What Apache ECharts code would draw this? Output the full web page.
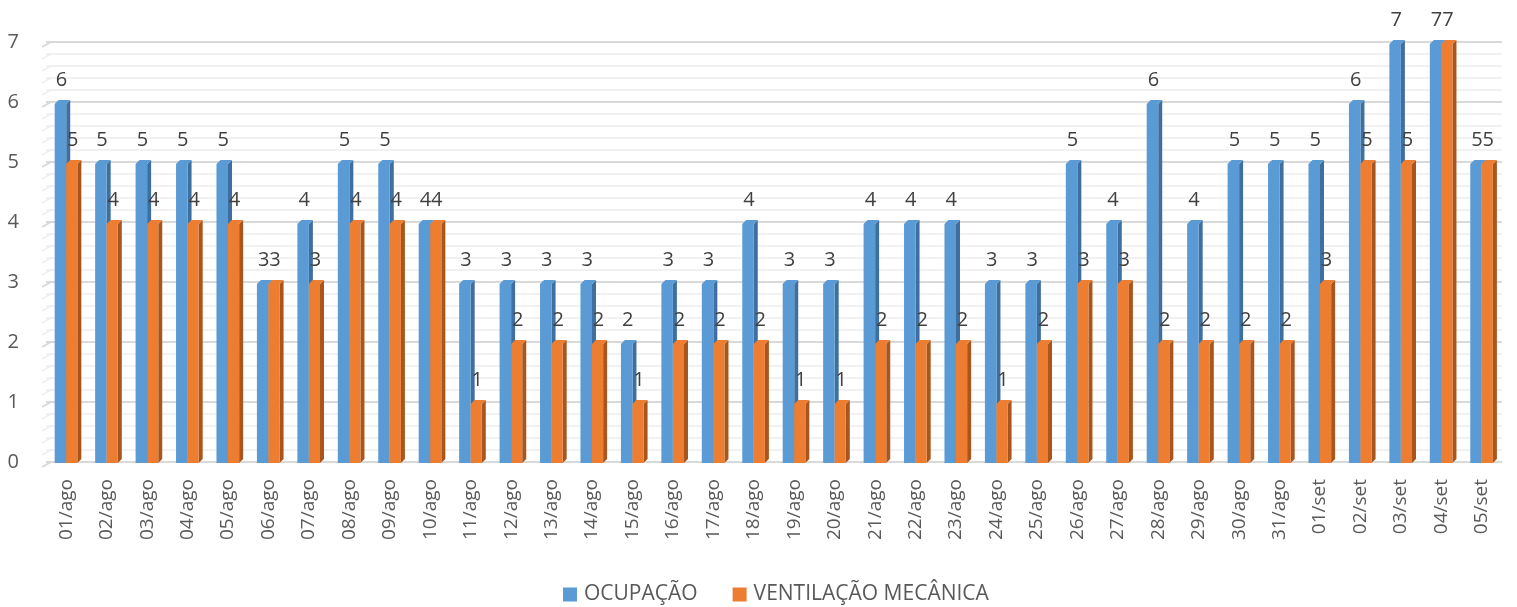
<!DOCTYPE html>
<html><head><meta charset="utf-8">
<script src="https://cdn.jsdelivr.net/npm/echarts@6/dist/echarts.min.js"></script>
<style>html,body{margin:0;padding:0;background:#fff}#c{width:1517px;height:607px}</style>
</head><body><div id="c"></div>
<script>
const categories = ['01/ago','02/ago','03/ago','04/ago','05/ago','06/ago','07/ago','08/ago','09/ago','10/ago','11/ago','12/ago','13/ago','14/ago','15/ago','16/ago','17/ago','18/ago','19/ago','20/ago','21/ago','22/ago','23/ago','24/ago','25/ago','26/ago','27/ago','28/ago','29/ago','30/ago','31/ago','01/set','02/set','03/set','04/set','05/set'];
const ocupacao = [6,5,5,5,5,3,4,5,5,4,3,3,3,3,2,3,3,4,3,3,4,4,4,3,3,5,4,6,4,5,5,5,6,7,7,5];
const ventilacao = [5,4,4,4,4,3,3,4,4,4,1,2,2,2,1,2,2,2,1,1,2,2,2,1,2,3,3,2,2,2,2,3,5,5,7,5];
const yTicks = [0,1,2,3,4,5,6,7];
const minorPerUnit = 5;

const FONT = '"Open Sans", "Liberation Sans", sans-serif';

// gridline positions (major + minor) for the slanted 3D wall edge
const gridValues = [];
for (let i = 0; i < yTicks.length; i++) {
  for (let k = 0; k < minorPerUnit; k++) {
    if (i === yTicks.length - 1 && k > 0) break;
    gridValues.push([0, yTicks[i] + (k / minorPerUnit) * (i < yTicks.length - 1 ? yTicks[i + 1] - yTicks[i] : 1), k === 0 ? 1 : 0]);
  }
}

function make3D(front, side, top, offStart, offEnd) {
  return function (params, api) {
    const xi = api.value(0), v = api.value(1);
    const c = api.coord([xi, v]);
    const b = api.coord([xi, 0]);
    const bw = api.size([1, 0])[0];
    const x0 = c[0] + offStart * bw, x1 = c[0] + offEnd * bw;
    const dx = 4, dy = 4;
    const yTop = c[1] + 2, yBot = b[1] + 1;
    return {
      type: 'group',
      children: [
        {type: 'polygon', shape: {points: [[x1, yTop], [x1 + dx, yTop - dy], [x1 + dx, yBot - dy], [x1, yBot]]}, style: {fill: side}},
        {type: 'polygon', shape: {points: [[x0, yTop], [x0 + dx, yTop - dy], [x1 + dx, yTop - dy], [x1, yTop]]}, style: {fill: top}},
        {type: 'rect', shape: {x: x0, y: yTop, width: x1 - x0, height: yBot - yTop}, style: {fill: front}},
        {type: 'text', style: {text: String(v), x: (x0 + x1) / 2 + 1, y: c[1] - 22, align: 'center', verticalAlign: 'middle', fill: '#404040', font: '20px ' + FONT}}
      ]
    };
  };
}

function slantEdge(params, api) {
  const p = api.coord([0, api.value(1)]);
  const bw = api.size([1, 0])[0];
  const xl = p[0] - bw / 2;
  const major = api.value(2) === 1;
  return {
    type: 'line',
    shape: {x1: xl - 4, y1: p[1] + 5, x2: xl + 5, y2: p[1]},
    style: {stroke: major ? '#D9D9D9' : '#EFEFEF', lineWidth: major ? 2 : 1.5}
  };
}

const chart = echarts.init(document.getElementById('c'), null, {renderer: 'canvas'});
chart.setOption({
  animation: false,
  textStyle: {fontFamily: FONT},
  grid: {left: 46, right: 15, top: 42, bottom: 145},
  legend: {
    top: 579, left: 558, itemGap: 35, itemWidth: 14, itemHeight: 14,
    icon: 'rect',
    textStyle: {fontSize: 21, color: '#595959', fontFamily: FONT, padding: [0, 0, 0, 2]},
    data: [
      {name: 'OCUPAÇÃO', itemStyle: {color: '#5B9BD5'}},
      {name: 'VENTILAÇÃO MECÂNICA', itemStyle: {color: '#ED7D31'}}
    ]
  },
  xAxis: {
    type: 'category', data: categories,
    axisLine: {show: false}, axisTick: {show: false},
    axisLabel: {rotate: 90, fontSize: 19, color: '#595959', margin: 17, fontFamily: FONT}
  },
  yAxis: {
    type: 'value', min: 0, max: 7, interval: 1,
    axisLine: {show: false}, axisTick: {show: false},
    axisLabel: {fontSize: 20, color: '#595959', margin: 27, fontFamily: FONT},
    splitLine: {lineStyle: {color: '#D9D9D9', width: 2}},
    minorTick: {show: false, splitNumber: minorPerUnit},
    minorSplitLine: {show: true, lineStyle: {color: '#EDEDED', width: 1.5}}
  },
  series: [
    {name: 'grid-edge', type: 'custom', renderItem: slantEdge, encode: {x: 0, y: 1},
     data: gridValues, z: 1, silent: true},
    {name: 'OCUPAÇÃO', type: 'custom', renderItem: make3D('#5B9BD5', '#3F6F9E', '#5B9BD5', -0.285, 0),
     itemStyle: {color: '#5B9BD5'}, encode: {x: 0, y: 1},
     data: ocupacao.map((v, i) => [i, v]), z: 3},
    {name: 'VENTILAÇÃO MECÂNICA', type: 'custom', renderItem: make3D('#ED7D31', '#A9561E', '#ED7D31', 0, 0.275),
     itemStyle: {color: '#ED7D31'}, encode: {x: 0, y: 1},
     data: ventilacao.map((v, i) => [i, v]), z: 4}
  ]
});
</script></body></html>
